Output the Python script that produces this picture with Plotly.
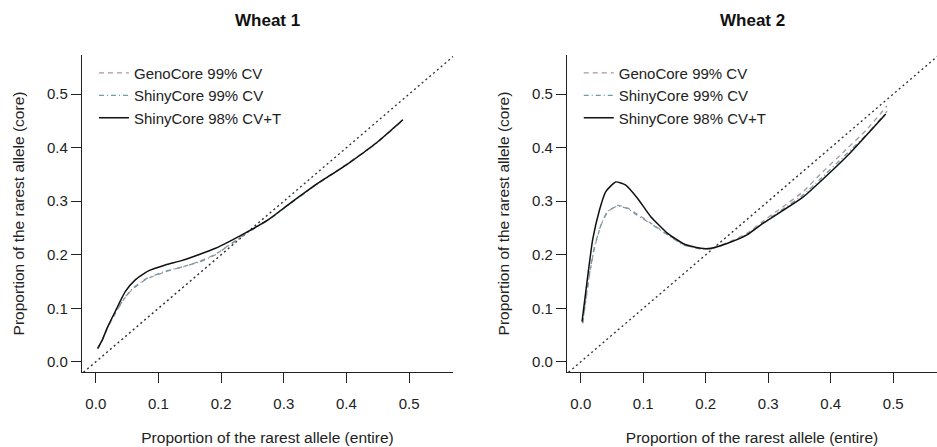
import plotly.graph_objects as go

# ---------------- data ----------------
diag = [-0.05, 0.62]

# Wheat 1
w1_x_solid = [0.003, 0.010, 0.018, 0.031, 0.047, 0.063, 0.084, 0.111, 0.137, 0.164, 0.191,
              0.212, 0.244, 0.276, 0.310, 0.350, 0.400, 0.450, 0.490]
w1_solid = [0.025, 0.040, 0.063, 0.094, 0.131, 0.153, 0.170, 0.181, 0.189, 0.200, 0.212,
            0.224, 0.244, 0.266, 0.296, 0.330, 0.368, 0.411, 0.452]
w1_x_cv = [0.003, 0.010, 0.018, 0.031, 0.045, 0.058, 0.080, 0.111, 0.137, 0.164, 0.191,
           0.206, 0.220, 0.244, 0.276, 0.310, 0.350, 0.400, 0.450, 0.490]
w1_shiny99 = [0.024, 0.040, 0.062, 0.091, 0.118, 0.136, 0.155, 0.169, 0.177, 0.186, 0.200,
              0.212, 0.223, 0.243, 0.265, 0.295, 0.329, 0.368, 0.410, 0.451]
w1_geno99 = [0.024, 0.039, 0.061, 0.090, 0.117, 0.135, 0.154, 0.168, 0.177, 0.187, 0.201,
             0.213, 0.224, 0.244, 0.266, 0.296, 0.330, 0.369, 0.411, 0.452]

# Wheat 2
w2_x_solid = [0.002, 0.011, 0.019, 0.030, 0.040, 0.056, 0.072, 0.091, 0.112, 0.139, 0.165,
              0.192, 0.208, 0.234, 0.266, 0.292, 0.356, 0.425, 0.488]
w2_solid = [0.075, 0.159, 0.228, 0.284, 0.318, 0.336, 0.330, 0.305, 0.271, 0.240, 0.220,
            0.212, 0.212, 0.221, 0.237, 0.259, 0.308, 0.383, 0.463]
w2_x_cv = [0.003, 0.014, 0.022, 0.032, 0.043, 0.059, 0.075, 0.090, 0.112, 0.139, 0.165,
           0.192, 0.210, 0.234, 0.266, 0.292, 0.356, 0.382, 0.425, 0.457, 0.490]
w2_shiny99 = [0.072, 0.165, 0.215, 0.255, 0.281, 0.291, 0.286, 0.274, 0.258, 0.237, 0.218,
              0.211, 0.211, 0.221, 0.238, 0.260, 0.312, 0.340, 0.388, 0.424, 0.468]
w2_geno99 = [0.072, 0.163, 0.213, 0.254, 0.280, 0.292, 0.287, 0.276, 0.259, 0.238, 0.219,
             0.211, 0.212, 0.222, 0.240, 0.263, 0.318, 0.349, 0.397, 0.433, 0.478]

ticks = [0.0, 0.1, 0.2, 0.3, 0.4, 0.5]
tick_text = ["0.0", "0.1", "0.2", "0.3", "0.4", "0.5"]
names = ["GenoCore 99% CV", "ShinyCore 99% CV", "ShinyCore 98% CV+T"]
titles = ["Wheat 1", "Wheat 2"]
xlab = "Proportion of the rarest allele (entire)"
ylab = "Proportion of the rarest allele (core)"

# ---------------- styling ----------------
FONT = "Liberation Sans, Arial, sans-serif"
C_GENO = "#ab969b"
C_SHINY = "#6f9ca6"
C_SOLID = "#111111"
C_DIAG = "#333333"

fig = go.Figure()

panels = [
    ("x", "y", "legend", w1_x_cv, w1_geno99, w1_shiny99, w1_x_solid, w1_solid),
    ("x2", "y2", "legend2", w2_x_cv, w2_geno99, w2_shiny99, w2_x_solid, w2_solid),
]
for xa, ya, lg, xcv, geno, shiny, xs, solid in panels:
    fig.add_trace(go.Scatter(x=diag, y=diag, mode="lines", xaxis=xa, yaxis=ya,
                             line=dict(color=C_DIAG, width=1.4, dash="2px,3px"),
                             showlegend=False, hoverinfo="skip"))
    fig.add_trace(go.Scatter(x=xcv, y=geno, mode="lines", name=names[0], xaxis=xa, yaxis=ya,
                             legend=lg, line=dict(color=C_GENO, width=1.3, dash="5px,4px",
                                                  shape="spline", smoothing=0.5)))
    fig.add_trace(go.Scatter(x=xcv, y=shiny, mode="lines", name=names[1], xaxis=xa, yaxis=ya,
                             legend=lg, line=dict(color=C_SHINY, width=1.3, dash="5px,3px,1px,3px",
                                                  shape="spline", smoothing=0.5)))
    fig.add_trace(go.Scatter(x=xs, y=solid, mode="lines", name=names[2], xaxis=xa, yaxis=ya,
                             legend=lg, line=dict(color=C_SOLID, width=1.5,
                                                  shape="spline", smoothing=0.5)))

axis_common = dict(
    showline=True, linecolor="#222222", linewidth=1.2, mirror=False,
    showgrid=False, zeroline=False,
    ticks="outside", ticklen=10, tickwidth=1.2, tickcolor="#222222",
    tickmode="array", tickvals=ticks, ticktext=tick_text,
    tickfont=dict(family=FONT, size=15, color="#222222"),
)
xr = [-0.022, 0.570]
yr = [-0.019, 0.573]

fig.update_layout(
    width=937, height=447,
    margin=dict(l=82, r=0, t=55, b=75),
    paper_bgcolor="white", plot_bgcolor="white",
    font=dict(family=FONT, size=15, color="#222222"),
    xaxis=dict(domain=[0.0, 0.4339], range=xr, anchor="y", ticklabelstandoff=8,
               title=dict(text=xlab, font=dict(family=FONT, size=15.5), standoff=21),
               **axis_common),
    yaxis=dict(domain=[0.0, 1.0], range=yr, anchor="x",
               title=dict(text=ylab, font=dict(family=FONT, size=15.5), standoff=18),
               **axis_common),
    xaxis2=dict(domain=[0.5673, 1.0], range=xr, anchor="y2", ticklabelstandoff=8,
                title=dict(text=xlab, font=dict(family=FONT, size=15.5), standoff=21),
                **axis_common),
    yaxis2=dict(domain=[0.0, 1.0], range=yr, anchor="x2",
                title=dict(text=ylab, font=dict(family=FONT, size=15.5), standoff=18),
                **axis_common),
    legend=dict(x=0.014, y=0.995, xanchor="left", yanchor="top", bgcolor="rgba(0,0,0,0)",
                font=dict(family=FONT, size=15), itemwidth=30, tracegroupgap=0),
    legend2=dict(x=0.581, y=0.995, xanchor="left", yanchor="top", bgcolor="rgba(0,0,0,0)",
                 font=dict(family=FONT, size=15), itemwidth=30, tracegroupgap=0),
    showlegend=True,
)

for xd, t in zip(["x domain", "x2 domain"], titles):
    fig.add_annotation(text="<b>" + t + "</b>", xref=xd, yref="paper", x=0.5, y=1.110,
                       xanchor="center", yanchor="middle", showarrow=False,
                       font=dict(family=FONT, size=17, color="#111111"))

fig.write_html("out.html", config={"displayModeBar": False},
               post_script="document.body.style.margin='0px';")
